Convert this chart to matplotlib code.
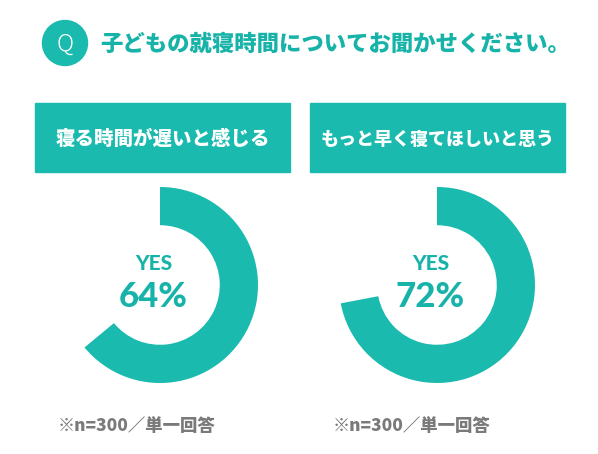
import matplotlib.pyplot as plt
from matplotlib.patches import Rectangle, Circle

# data
title = "子どもの就寝時間についてお聞かせください。"
questions = ["寝る時間が遅いと感じる", "もっと早く寝てほしいと思う"]
yes_values = [64, 72]
answer_label = "YES"
note = "※n=300／単一回答"

teal = "#1ABAAF"
teal_text = "#17B3A8"
gray = "#7A7A7A"
jp = ["Noto Sans CJK JP", "DejaVu Sans"]
num_font = ["Lato", "Noto Sans CJK JP", "DejaVu Sans"]

W, H = 598, 454
fig = plt.figure(figsize=(W / 100, H / 100), dpi=100)

# overlay in pixel coordinates (y down)
bg = fig.add_axes([0, 0, 1, 1])
bg.set_xlim(0, W)
bg.set_ylim(H, 0)
bg.axis("off")

# title row
bg.add_patch(Circle((65, 43), 22.5, color=teal))
bg.text(65, 44, "Q", color="white", fontsize=17, fontweight="light",
        ha="center", va="center", family=jp)
bg.text(100, 44, title, color=teal_text, fontsize=16.1, fontweight="heavy",
        ha="left", va="center", family=jp)

box_x = [35, 310]
q_size = [14, 13]
centers = [160, 437]
for i, q in enumerate(questions):
    bg.add_patch(Rectangle((box_x[i], 103), 255, 69, color=teal))
    bg.text(box_x[i] + 127.5, 139, q, color="white", fontsize=q_size[i],
            fontweight="heavy", ha="center", va="center", family=jp)
    bg.text(box_x[i] + 23, 426, note, color=gray, fontsize=12.5,
            fontweight="heavy", ha="left", va="center", family=jp)

# donuts
r_px = 98
for i, v in enumerate(yes_values):
    cx, cy = centers[i], 285
    ax = fig.add_axes([(cx - r_px) / W, (H - cy - r_px) / H,
                       2 * r_px / W, 2 * r_px / H])
    ax.pie([v, 100 - v], colors=[teal, "none"], startangle=90,
           counterclock=False, radius=1,
           wedgeprops=dict(width=0.39, edgecolor="none"))
    ax.set_xlim(-1, 1)
    ax.set_ylim(-1, 1)
    ax.set_aspect("equal")
    ax.axis("off")
    bg.text(cx - 6, 264, answer_label, color=teal_text, fontsize=15,
            fontweight="black", ha="center", va="center", family=num_font)
    bg.text(cx - 7, 297, f"{v}%", color=teal_text, fontsize=25,
            fontweight="black", ha="center", va="center", family=num_font)

fig.savefig("out.png", dpi=100)
